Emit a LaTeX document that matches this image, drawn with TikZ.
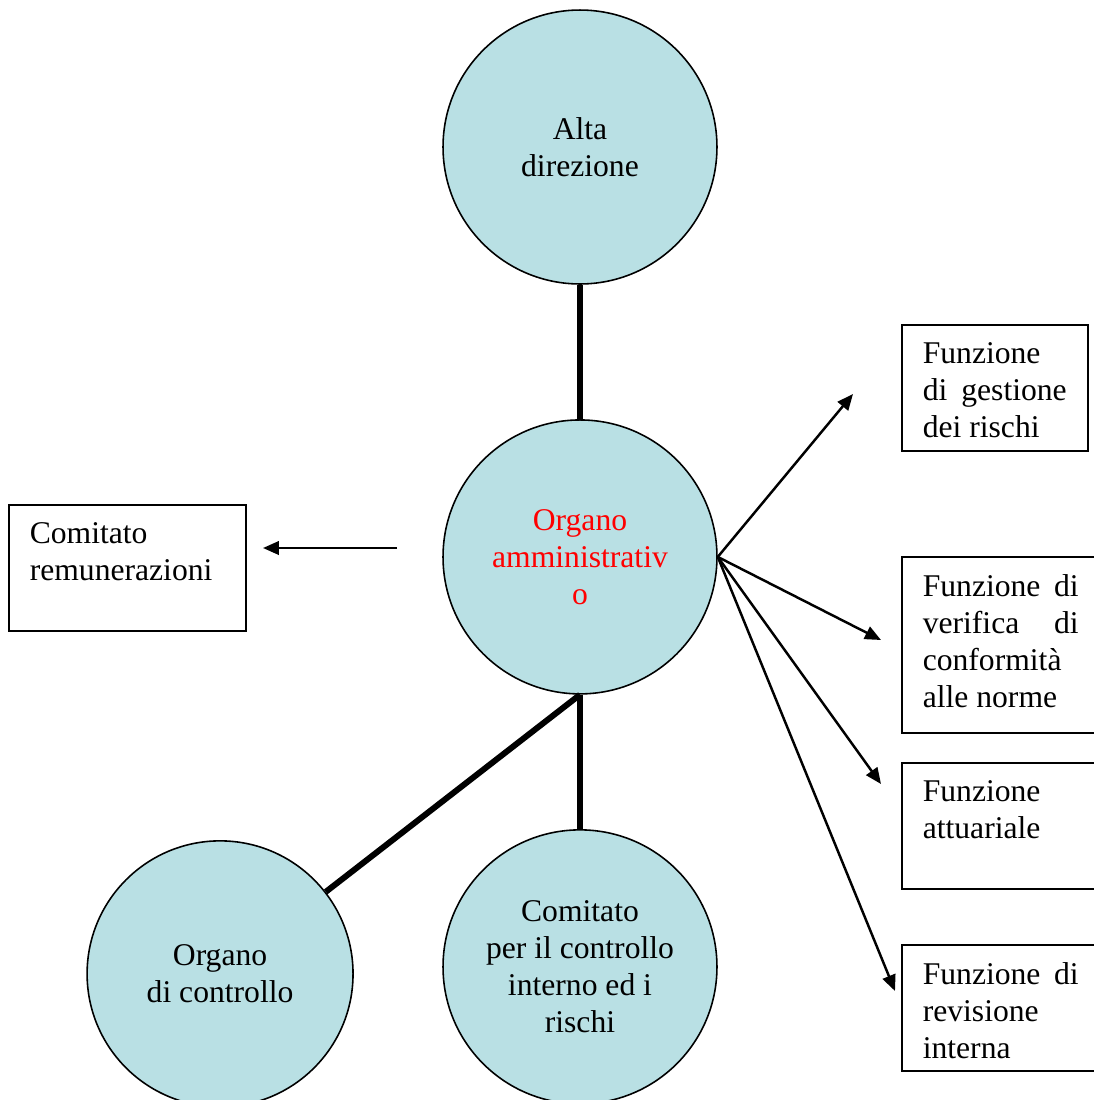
\documentclass[tikz,border=0pt]{standalone}
\usepackage{fontspec}
\setmainfont{Liberation Serif}
\usetikzlibrary{arrows.meta,positioning}
\definecolor{circfill}{RGB}{185,224,228}

\begin{document}
\begin{tikzpicture}[x=0.02cm, y=-0.02cm, node distance={82mm},
    main/.style = {draw, circle, fill=circfill, line width=0.9pt, minimum size=5.48cm, inner sep=0pt, align=center, font=\fontsize{18}{21}\selectfont},
    fbox/.style = {draw, line width=0.9pt, anchor=north west, inner xsep=0.42cm, inner ysep=0.36cm, font=\fontsize{18}{21}\selectfont},
    link/.style = {line width=3.4pt},
    arr/.style = {line width=1.4pt, -{Triangle[length=0.32cm, width=0.27cm]}}]
            \useasboundingbox (0,0) rectangle (1094,1100);

            \node[main] (alta) at (580,147) {Alta\\direzione};
            \node[main, text=red] (amm) [below of=alta] {Organo\\amministrativ\\o};
            \node[main] (cci) [below of=amm] {Comitato\\per il controllo\\interno ed i\\rischi};
            \node[main, minimum size=5.32cm] (ctrl) [left of=cci, node distance=72mm, yshift=-0.14cm] {Organo\\di controllo};

            \path[link] (alta) edge (amm);
            \path[link] (amm) edge (cci);
            \path[link] (amm.south) edge (ctrl);

            \node[fbox] (rem) at (8,504) {\parbox[c][1.80cm][t]{3.90cm}{Comitato\\remunerazioni}};
            \node[fbox] (gest) at (901,324) {\parbox[c][1.80cm][t]{2.88cm}{Funzione\\di\hfill gestione\\dei rischi}};
            \node[fbox] (verif) at (901,556) {\parbox[c][2.80cm][t]{3.12cm}{Funzione\hfill di\\verifica\hfill di\\conformità\\alle norme}};
            \node[fbox] (att) at (901,762) {\parbox[c][1.80cm][t]{3.12cm}{Funzione\\attuariale}};
            \node[fbox] (rev) at (901,944) {\parbox[c][1.80cm][t]{3.12cm}{Funzione\hfill di\\revisione\\interna}};

            \coordinate (remtail) at (397,548);
            \coordinate (remtip) at (263,548);
            \coordinate (gesttip) at (853,394);
            \coordinate (veriftip) at (881,640);
            \coordinate (atttip) at (881,784);
            \coordinate (revtip) at (895,991);

            \path[arr] (remtail) edge (remtip);
            \path[arr] (amm.east) edge (gesttip);
            \path[arr] (amm.east) edge (veriftip);
            \path[arr] (amm.east) edge (atttip);
            \path[arr] (amm.east) edge (revtip);
        \end{tikzpicture}
\end{document}
